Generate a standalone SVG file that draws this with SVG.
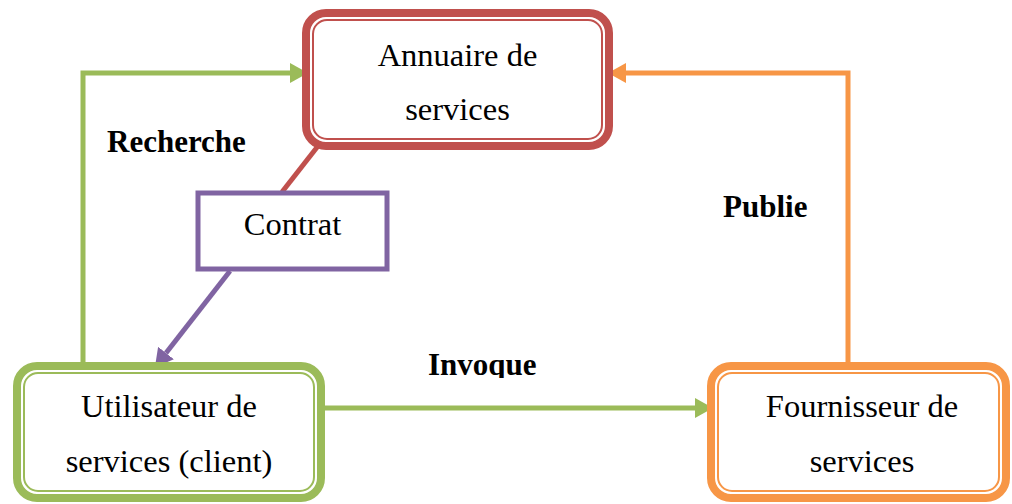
<svg xmlns="http://www.w3.org/2000/svg" width="1012" height="504" viewBox="0 0 1012 504">
  <style>
    .lbl { font-family: "Liberation Serif", "Times New Roman", serif; font-size: 32.5px; fill: #000; text-anchor: middle; }
    .edge-lbl { font-family: "Liberation Serif", "Times New Roman", serif; font-size: 31px; font-weight: bold; fill: #000; }
    .thick { fill: #fff; stroke-width: 8; }
    .thin { fill: none; stroke-width: 2; }
    .red { stroke: #C0504D; }
    .green { stroke: #9BBB59; }
    .orange { stroke: #F79646; }
    .purple { stroke: #8064A2; }
    .conn { fill: none; stroke-width: 5; }
  </style>
  <defs>
    <marker id="arrow-green" markerUnits="userSpaceOnUse" markerWidth="18" markerHeight="20" viewBox="0 0 18 20" refX="0" refY="10" orient="auto">
      <path d="M0,0 L18,10 L0,20 Z" fill="#9BBB59"/>
    </marker>
    <marker id="arrow-orange" markerUnits="userSpaceOnUse" markerWidth="18" markerHeight="20" viewBox="0 0 18 20" refX="0" refY="10" orient="auto">
      <path d="M0,0 L18,10 L0,20 Z" fill="#F79646"/>
    </marker>
    <marker id="arrow-purple" markerUnits="userSpaceOnUse" markerWidth="18" markerHeight="20" viewBox="0 0 18 20" refX="0" refY="10" orient="auto">
      <path d="M0,0 L18,10 L0,20 Z" fill="#8064A2"/>
    </marker>
    <clipPath id="clip-invoque">
      <rect x="400" y="330" width="200" height="48"/>
    </clipPath>
  </defs>

  <rect width="1012" height="504" fill="#fff"/>

  <g id="connectors">
    <!-- Recherche: client up and across to the directory -->
    <path class="conn green" d="M83,364 V73 H290" marker-end="url(#arrow-green)"/>
    <!-- Publie: provider up and across to the directory -->
    <path class="conn orange" d="M848,364 V73 H626" marker-end="url(#arrow-orange)"/>
    <!-- Invoque: client to provider -->
    <path class="conn green" d="M325,408 H695" marker-end="url(#arrow-green)"/>
    <!-- directory to contract -->
    <path class="conn red" d="M318,146 L282,192"/>
    <!-- contract to client -->
    <path class="conn purple" d="M230,271 L166,353" marker-end="url(#arrow-purple)"/>
  </g>

  <g id="edge-labels">
    <text class="edge-lbl" x="107" y="152">Recherche</text>
    <text class="edge-lbl" x="723" y="217">Publie</text>
    <text class="edge-lbl" x="428" y="375" clip-path="url(#clip-invoque)">Invoque</text>
  </g>

  <g id="annuaire">
    <rect class="thick red" x="306" y="13" width="303" height="133" rx="20"/>
    <rect class="thin red" x="313" y="20" width="289" height="119" rx="14"/>
    <text class="lbl" x="457.5" y="66">Annuaire de</text>
    <text class="lbl" x="457.5" y="120">services</text>
  </g>

  <g id="contrat">
    <rect x="198" y="193" width="189" height="76" fill="#fff" stroke="#8064A2" stroke-width="5"/>
    <text class="lbl" x="292.5" y="235">Contrat</text>
  </g>

  <g id="utilisateur">
    <rect class="thick green" x="17" y="366" width="304" height="132" rx="20"/>
    <rect class="thin green" x="24" y="373" width="290" height="118" rx="14"/>
    <text class="lbl" x="169" y="417">Utilisateur de</text>
    <text class="lbl" x="169" y="472">services (client)</text>
  </g>

  <g id="fournisseur">
    <rect class="thick orange" x="711" y="366" width="295" height="132" rx="20"/>
    <rect class="thin orange" x="718" y="373" width="281" height="118" rx="14"/>
    <text class="lbl" x="862" y="417">Fournisseur de</text>
    <text class="lbl" x="862" y="472">services</text>
  </g>
</svg>
